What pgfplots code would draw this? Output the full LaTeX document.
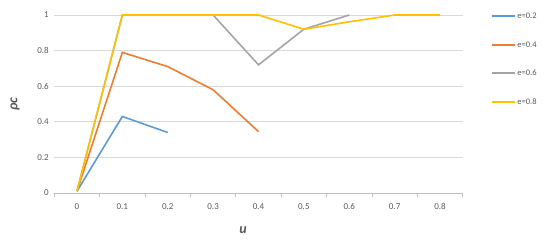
\documentclass[border=0pt]{standalone}
\usepackage{pgfplots}
\pgfplotsset{compat=1.18}
\usepackage{fontspec}
\setmainfont{Carlito}

\definecolor{cblue}{HTML}{5B9BD5}
\definecolor{corange}{HTML}{ED7D31}
\definecolor{cgray}{HTML}{A5A5A5}
\definecolor{cyellow}{HTML}{FFC000}
\definecolor{txt}{HTML}{595959}

\begin{document}
\begin{tikzpicture}
\begin{axis}[
    scale only axis,
    width=408.4pt, height=178pt,
    xmin=-0.5, xmax=8.5,
    ymin=0, ymax=1,
    xtick={0,1,2,3,4,5,6,7,8},
    xticklabels={0,0.1,0.2,0.3,0.4,0.5,0.6,0.7,0.8},
    minor xtick={-0.5,0.5,1.5,2.5,3.5,4.5,5.5,6.5,7.5,8.5},
    major tick length=0pt,
    minor tick length=4pt,
    tick align=outside,
    ytick={0,0.2,0.4,0.6,0.8,1},
    yticklabels={0,0.2,0.4,0.6,0.8,1},
    ymajorgrids=true,
    grid style={color=black!15, line width=0.8pt},
    minor x tick style={color=black!25, line width=0.8pt},
    axis lines*=left,
    y axis line style={draw=none},
    x axis line style={color=black!25, line width=0.8pt, -},
    ticklabel style={font=\fontsize{9}{10}\selectfont, text=txt},
    yticklabel style={xshift=-2pt},
    xticklabel style={yshift=-7pt},
    xlabel={\textbf{\textit{u}}},
    ylabel={\textbf{\textit{ρc}}},
    label style={font=\fontsize{14}{15}\selectfont, text=txt},
    xlabel style={at={(axis description cs:0.462,-0.208)}, anchor=center},
    ylabel style={at={(axis description cs:-0.096,0.5)}, anchor=center},
    clip=false,
]
\addplot[cblue, line width=1.6pt] coordinates {(0,0.01) (1,0.43) (2,0.34)};
\addplot[corange, line width=1.6pt] coordinates {(0,0.01) (1,0.79) (2,0.71) (3,0.58) (4,0.345)};
\addplot[cgray, line width=1.6pt] coordinates {(0,0.01) (1,1) (2,1) (3,1) (4,0.72) (5,0.92) (6,1)};
\addplot[cyellow, line width=1.6pt] coordinates {(0,0.01) (1,1) (2,1) (3,1) (4,1) (5,0.92) (6,0.962) (7,1) (8,1)};
% legend, drawn by hand beside the plot
\draw[cblue, line width=1.6pt] (axis description cs:1.072,0.994) -- ++(23pt,0pt)
    node[right, inner sep=1.5pt, text=txt, font=\fontsize{8.5}{9}\selectfont] {e=0.2};
\draw[corange, line width=1.6pt] (axis description cs:1.072,0.831) -- ++(23pt,0pt)
    node[right, inner sep=1.5pt, text=txt, font=\fontsize{8.5}{9}\selectfont] {e=0.4};
\draw[cgray, line width=1.6pt] (axis description cs:1.072,0.674) -- ++(23pt,0pt)
    node[right, inner sep=1.5pt, text=txt, font=\fontsize{8.5}{9}\selectfont] {e=0.6};
\draw[cyellow, line width=1.6pt] (axis description cs:1.072,0.511) -- ++(23pt,0pt)
    node[right, inner sep=1.5pt, text=txt, font=\fontsize{8.5}{9}\selectfont] {e=0.8};
\path[use as bounding box] (rel axis cs:0,0) ++(-54.3pt,-49pt) rectangle ++(550pt,242pt);
\end{axis}
\end{tikzpicture}
\end{document}
